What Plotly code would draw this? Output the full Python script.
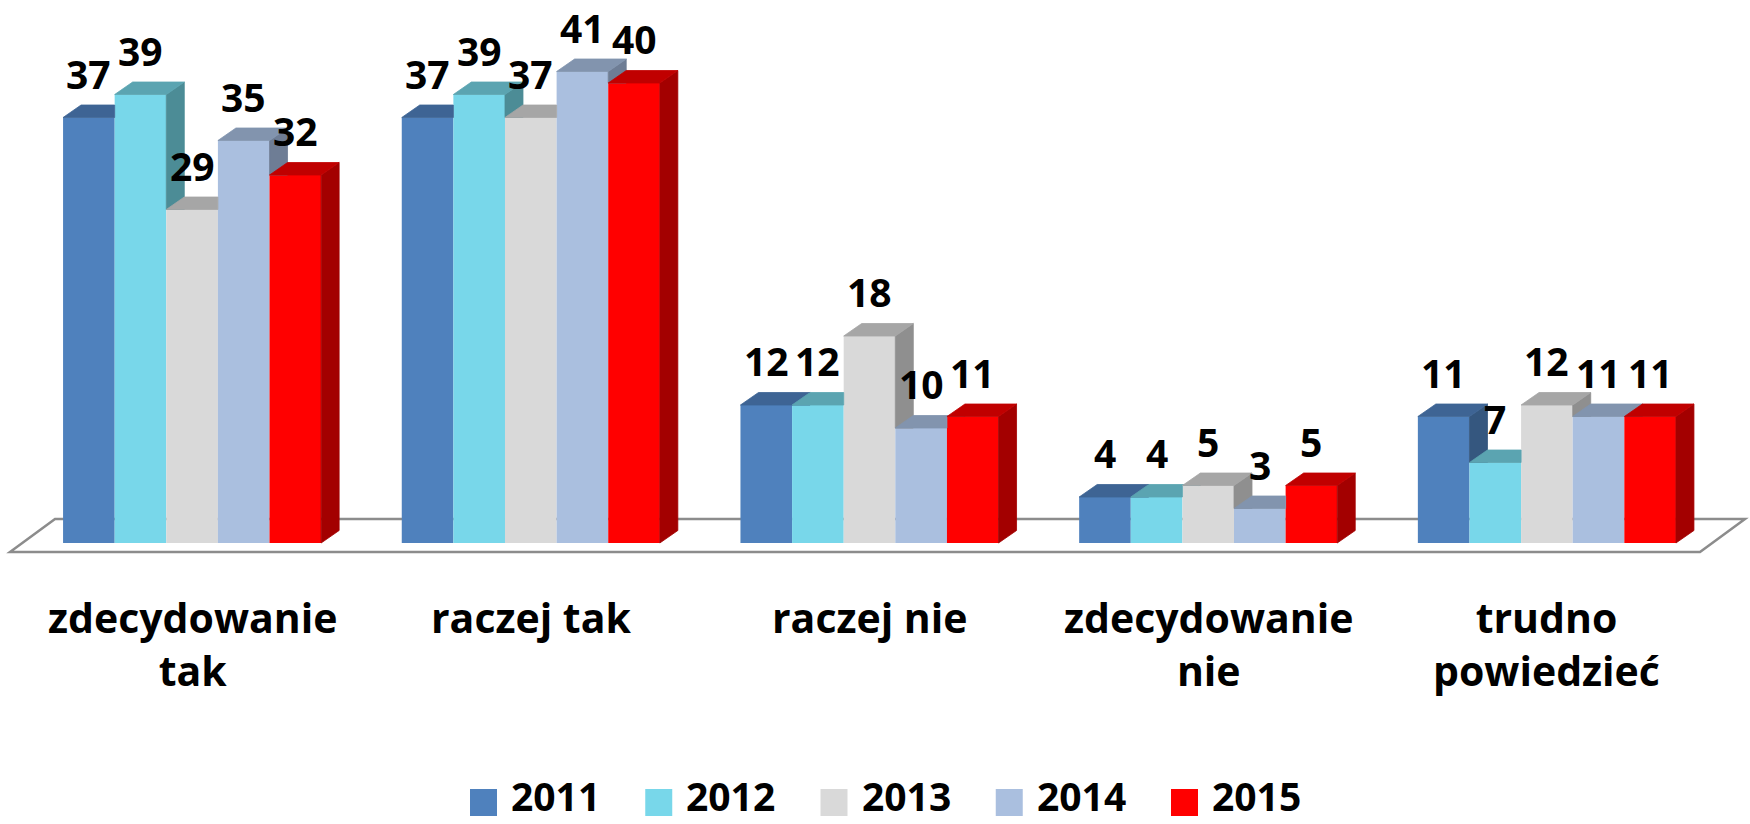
import plotly.graph_objects as go

# ---------------- data ----------------
categories = ["zdecydowanie<br>tak", "raczej tak", "raczej nie", "zdecydowanie<br>nie", "trudno<br>powiedzieć"]
years = ["2011", "2012", "2013", "2014", "2015"]
v2011 = [37, 37, 12, 4, 11]
v2012 = [39, 39, 12, 4, 7]
v2013 = [29, 37, 18, 5, 12]
v2014 = [35, 41, 10, 3, 11]
v2015 = [32, 40, 11, 5, 11]
series = [v2011, v2012, v2013, v2014, v2015]

# ---------------- style ----------------
front_colors = ["#4F81BD", "#78D7EA", "#D9D9D9", "#AABFDF", "#FF0000"]
top_colors = ["#3E6494", "#5BA4B1", "#A6A6A6", "#8294AE", "#C00000"]
side_colors = ["#35577F", "#4C8C96", "#8F8F8F", "#6E7D95", "#A30000"]

W_PX, H_PX = 1750, 824
PX_PER_CAT = 338.7          # horizontal px per category
PX_PER_UNIT = 11.5          # vertical px per value unit
X0_PX = 192.1               # px position of first category centre
BASE_PX = 543               # px position of value 0
BARGAP = 0.238
n = len(series)
BW = (1 - BARGAP) / n
DX = 18 / PX_PER_CAT        # depth offset (x, data units)
DY = 12.5 / PX_PER_UNIT     # depth offset (y, data units)

x_range = [-X0_PX / PX_PER_CAT, (W_PX - X0_PX) / PX_PER_CAT]
y_range = [-(H_PX - BASE_PX) / PX_PER_UNIT, BASE_PX / PX_PER_UNIT]

FONT = "Open Sans"

fig = go.Figure()
xpos = list(range(len(categories)))

# front faces: real bars
for j in range(n):
    fig.add_trace(go.Bar(
        x=xpos, y=series[j], name=years[j],
        marker=dict(color=front_colors[j], line=dict(width=0)),
        showlegend=False, hoverinfo="x+y",
    ))

# 3D side and top faces, clipped against the next bar's front
side_traces, top_traces = [], []
for j in range(n):
    sx, sy, tx, ty = [], [], [], []
    for i in range(len(categories)):
        v = series[j][i]
        xc = i + (j - (n - 1) / 2) * BW
        xl, xr = xc - BW / 2, xc + BW / 2
        vn = series[j + 1][i] if j + 1 < n else None
        # side face
        if vn is None:
            poly = [(xr, 0), (xr + DX, DY), (xr + DX, v + DY), (xr, v)]
        elif vn >= v + DY:
            poly = []
        elif vn >= v:
            t = (vn - v) / DY
            poly = [(xr + t * DX, vn), (xr + DX, v + DY), (xr + DX, vn)]
        else:
            if vn >= DY:
                poly = [(xr, vn), (xr, v), (xr + DX, v + DY), (xr + DX, vn)]
            else:
                poly = [(xr, vn), (xr, v), (xr + DX, v + DY), (xr + DX, DY), (xr + vn / DY * DX, vn)]
        if poly:
            sx += [p[0] for p in poly] + [poly[0][0], None]
            sy += [p[1] for p in poly] + [poly[0][1], None]
        # top face
        if vn is None or vn <= v:
            poly = [(xl, v), (xl + DX, v + DY), (xr + DX, v + DY), (xr, v)]
        elif vn >= v + DY:
            poly = [(xl, v), (xl + DX, v + DY), (xr, v + DY), (xr, v)]
        else:
            t = (vn - v) / DY
            poly = [(xl, v), (xl + DX, v + DY), (xr + DX, v + DY), (xr + t * DX, vn), (xr, vn), (xr, v)]
        tx += [p[0] for p in poly] + [poly[0][0], None]
        ty += [p[1] for p in poly] + [poly[0][1], None]
    side_traces.append(go.Scatter(x=sx, y=sy, mode="lines", fill="toself",
                                  fillcolor=side_colors[j], line=dict(width=0.8, color=side_colors[j]),
                                  hoverinfo="skip", showlegend=False))
    top_traces.append(go.Scatter(x=tx, y=ty, mode="lines", fill="toself",
                                 fillcolor=top_colors[j], line=dict(width=0.8, color=top_colors[j]),
                                 hoverinfo="skip", showlegend=False))
for tr in side_traces + top_traces:
    fig.add_trace(tr)

annotations = []
# data labels
for j in range(n):
    for i, v in enumerate(series[j]):
        xc = i + (j - (n - 1) / 2) * BW
        annotations.append(dict(
            x=xc, y=v, xref="x", yref="y", text=str(v), showarrow=False,
            xanchor="center", yanchor="bottom", yshift=16,
            font=dict(family=FONT, size=39, color="black", weight="bold"),
        ))

# category labels
for i, c in enumerate(categories):
    annotations.append(dict(
        x=i, y=1 - 587 / H_PX, xref="x", yref="paper", text=c, showarrow=False,
        xanchor="center", yanchor="top", align="center",
        font=dict(family=FONT, size=41, color="black", weight="bold"),
    ))

# legend (manual)
shapes = []
LEG_X0, LEG_STEP, SQ = 470, 175.25, 27
for j, yname in enumerate(years):
    x0 = LEG_X0 + j * LEG_STEP
    shapes.append(dict(type="rect", xref="paper", yref="paper",
                       x0=x0 / W_PX, x1=(x0 + SQ) / W_PX,
                       y0=1 - 816 / H_PX, y1=1 - 789 / H_PX,
                       fillcolor=front_colors[j], line=dict(width=0)))
    annotations.append(dict(
        x=(x0 + SQ + 12) / W_PX, y=1 - 795 / H_PX, xref="paper", yref="paper",
        text=yname, showarrow=False, xanchor="left", yanchor="middle",
        font=dict(family=FONT, size=39, color="black", weight="bold"),
    ))

# floor
fl_left = -0.5 - 0.0376
fl_right = len(categories) - 1 + 0.452
fl_front = -0.78
fl_dx = 45 / PX_PER_CAT
fl_dy = 33 / PX_PER_UNIT
shapes.append(dict(
    type="path", xref="x", yref="y", layer="below",
    path=(f"M {fl_left},{fl_front} L {fl_left + fl_dx},{fl_front + fl_dy} "
          f"L {fl_right + fl_dx},{fl_front + fl_dy} L {fl_right},{fl_front} Z"),
    fillcolor="white", line=dict(color="#8C8C8C", width=2.5),
))

fig.update_layout(
    width=W_PX, height=H_PX,
    margin=dict(l=0, r=0, t=0, b=0),
    paper_bgcolor="white", plot_bgcolor="rgba(0,0,0,0)",
    barmode="group", bargap=BARGAP, bargroupgap=0,
    xaxis=dict(visible=False, range=x_range, fixedrange=True),
    yaxis=dict(visible=False, range=y_range, fixedrange=True),
    annotations=annotations, shapes=shapes,
    showlegend=False,
)

fig.write_html("out.html", config={"displayModeBar": False},
               post_script="document.body.style.margin='0';document.body.style.overflow='hidden';")
